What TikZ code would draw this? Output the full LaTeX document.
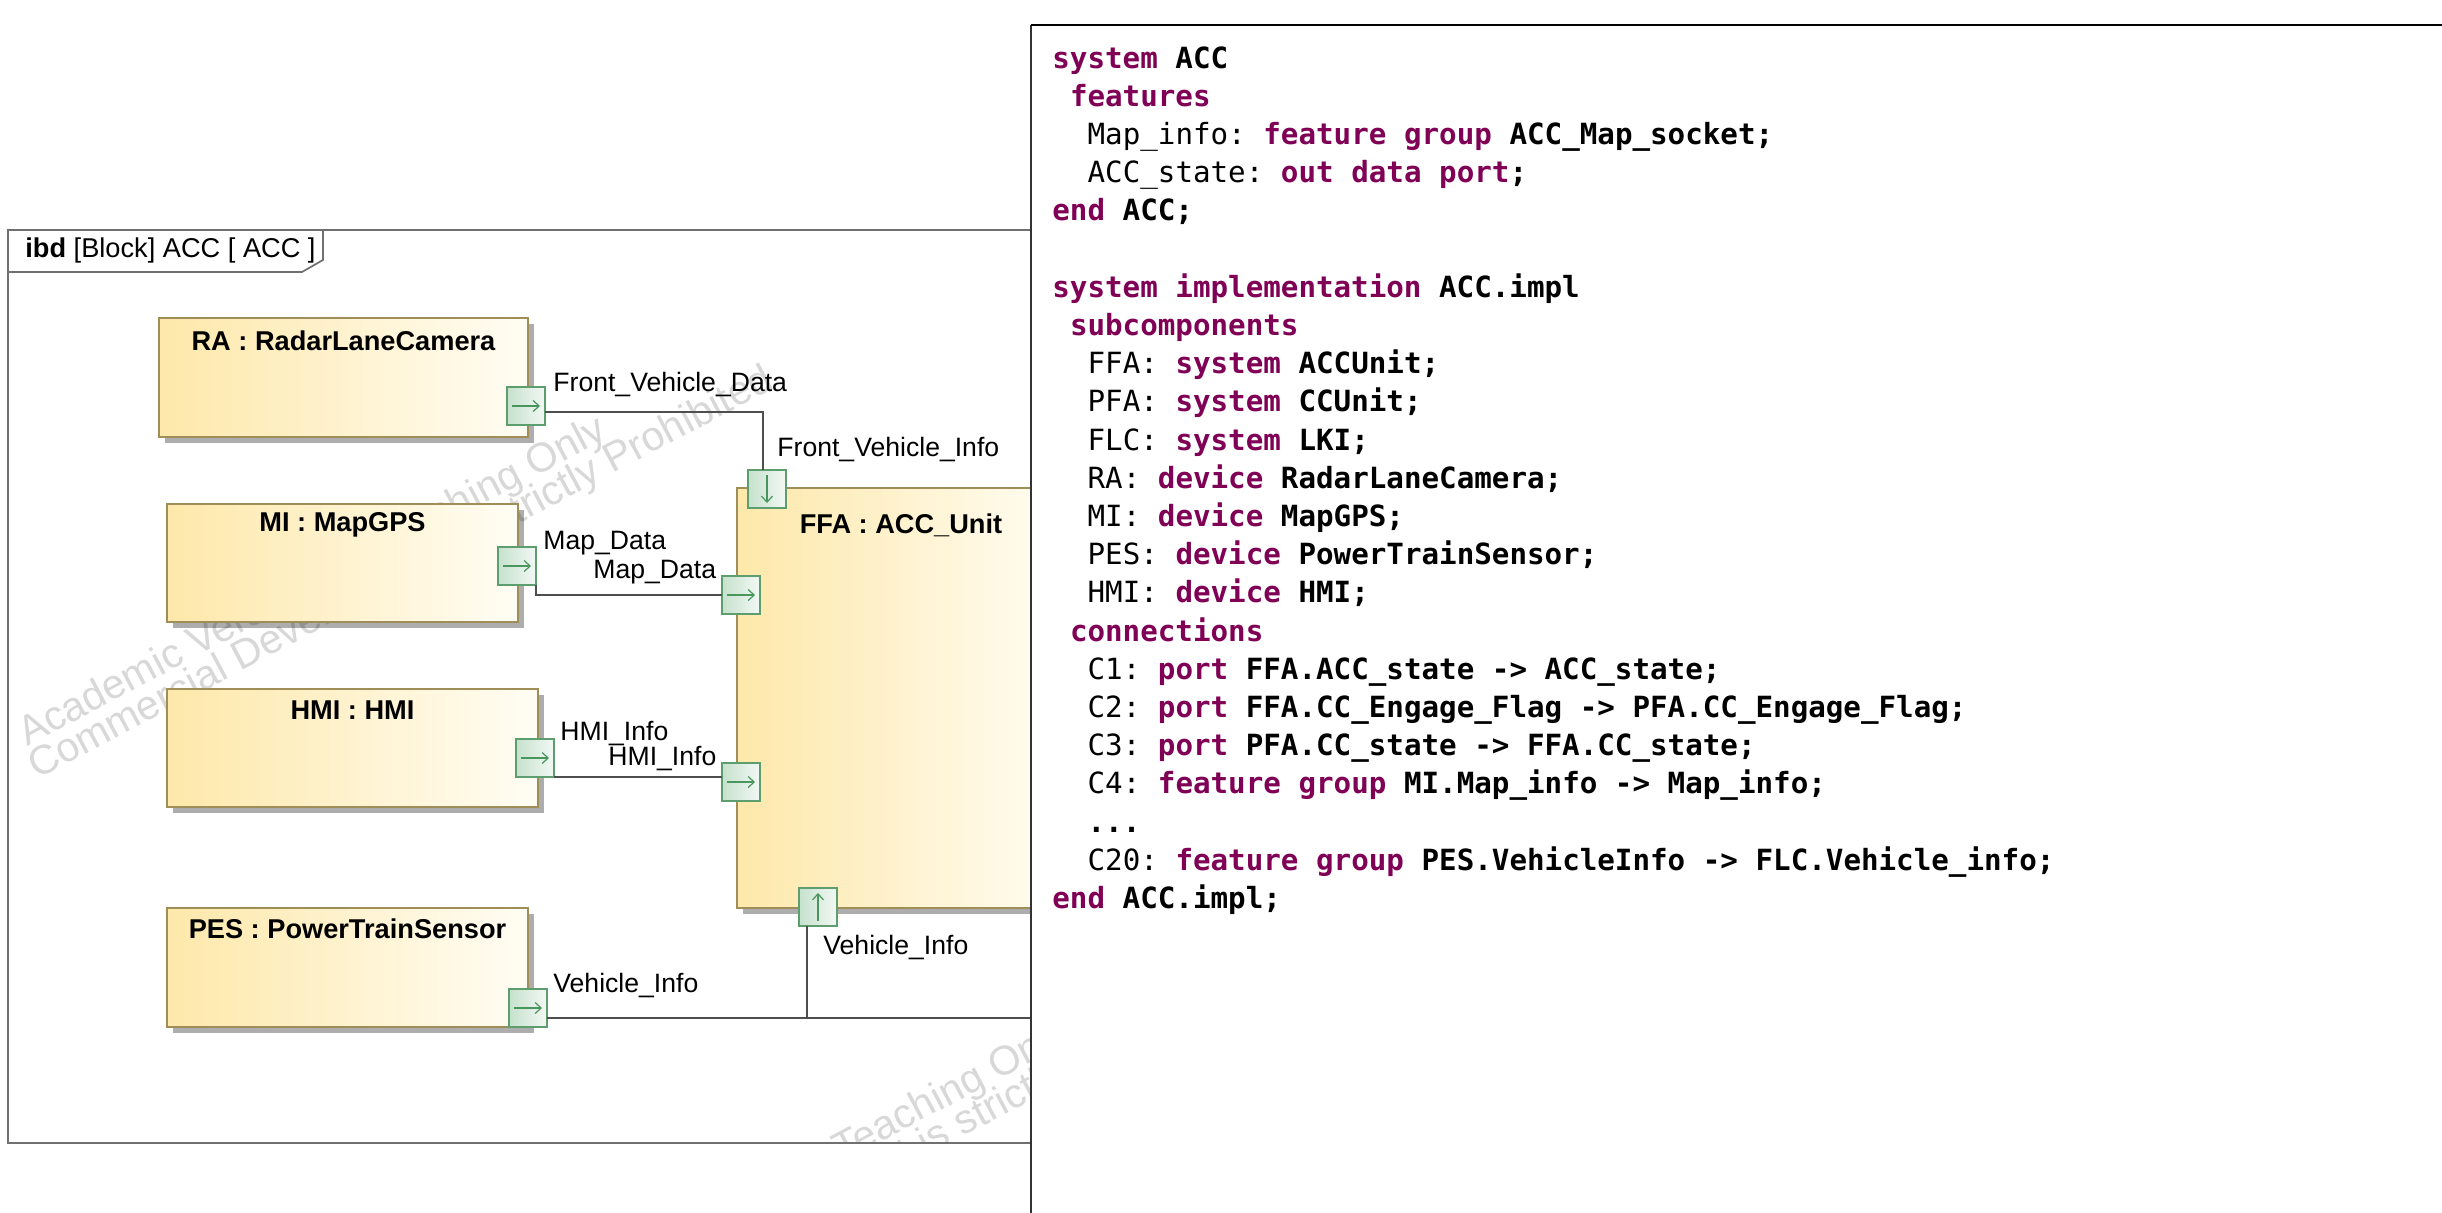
\documentclass[tikz,border=0pt]{standalone}
\usepackage{fontspec}
\setmainfont{Liberation Sans}
\newfontfamily\codefont{DejaVu Sans Mono}
\usetikzlibrary{arrows.meta,calc,shadows}

\definecolor{boxborder}{RGB}{160,142,88}
\definecolor{boxleft}{RGB}{254,232,170}
\definecolor{boxright}{RGB}{255,253,244}
\definecolor{portborder}{RGB}{92,158,110}
\definecolor{portleft}{RGB}{198,225,205}
\definecolor{portright}{RGB}{242,248,244}
\definecolor{portarrow}{RGB}{72,150,92}
\definecolor{conncol}{RGB}{78,78,78}
\definecolor{framecol}{RGB}{112,112,112}
\definecolor{kwcol}{RGB}{127,0,85}
\definecolor{wmcol}{RGB}{216,216,216}

\newcommand{\kw}[1]{\textcolor{kwcol}{\bfseries #1}}
\newcommand{\idb}[1]{{\bfseries #1}}
\newcommand{\blockat}[5]{\node[block,minimum width={(#4-#2)*0.5pt},minimum height={(#5-#3)*0.5pt}] (#1) at (#2,#3) {};}
\newcommand{\codeln}[4]{\node[codetext] (#1) at ({1052+#2*17.6},{68+(#3-1)*38.2}) {#4};}

\begin{document}
\begin{tikzpicture}[x=0.5pt,y=-0.5pt,
  block/.style={draw=boxborder,line width=0.9pt,left color=boxleft,right color=boxright,anchor=north west,inner sep=0pt,outer sep=0pt,drop shadow={shadow xshift=3pt,shadow yshift=-3pt,fill=black,opacity=0.32}},
  blocktitle/.style={font=\bfseries\fontsize{13.6}{16}\selectfont,inner sep=0pt},
  lbl/.style={font=\fontsize{13.3}{16}\selectfont,anchor=west,inner sep=0pt},
  port/.style={draw=portborder,line width=0.55pt,left color=portleft,right color=portright,minimum size=19pt,inner sep=0pt,outer sep=0pt},
  parrow/.style={draw=portarrow,line width=0.6pt,-{Straight Barb[length=3pt,width=5.5pt]}},
  conn/.style={draw=conncol,line width=0.7pt},
  codetext/.style={font=\codefont\fontsize{14.6}{17}\selectfont\frenchspacing,anchor=base west,inner sep=0pt},
  wm/.style={text=wmcol,font=\fontsize{20.5}{24}\selectfont,anchor=base west,rotate=28,inner sep=0pt}
]
\useasboundingbox (0,0) rectangle (2442,1212);
\fill[white] (0,0) rectangle (2442,1212);

% watermark
\begin{scope}
\clip (8,230) rectangle (1031,1143);
\node[wm] (wm1a) at (27,747) {Academic Version for Teaching Only};
\node[wm] (wm1b) at (37,780) {Commercial Development is strictly Prohibited};
\node[wm] (wm2a) at (490,1350) {Academic Version for Teaching Only};
\node[wm] (wm2b) at (500,1383) {Commercial Development is strictly Prohibited};
\end{scope}

% frame
\draw[framecol,line width=0.85pt] (8,230) rectangle (1100,1143);
\draw[framecol,line width=0.85pt] (8,272) -- (302,272) -- (323,260) -- (323,230);
\node[anchor=base west,inner sep=0pt,font=\fontsize{13.6}{16}\selectfont] (tab) at (25,257) {\textbf{ibd} [Block] ACC [ ACC ]};

% blocks
\blockat{ra}{159}{318}{528}{437}
\blockat{mi}{167}{504}{518}{622}
\blockat{hmi}{167}{689}{538}{807}
\blockat{pes}{167}{908}{528}{1027}
\blockat{ffa}{737}{488}{1065}{908}

\node[blocktitle] (ra-t) at ($(ra.north)+(0,23)$) {RA : RadarLaneCamera};
\node[blocktitle] (mi-t) at ($(mi.north)+(0,21)$) {MI : MapGPS};
\node[blocktitle] (hmi-t) at ($(hmi.north)+(0,21)$) {HMI : HMI};
\node[blocktitle] (pes-t) at ($(pes.north)+(0,21)$) {PES : PowerTrainSensor};
\node[blocktitle] (ffa-t) at (901,525) {FFA : ACC\_Unit};

% ports
\node[port] (p1) at (526,406) {};
\node[port] (p2) at (517,566) {};
\node[port] (p3) at (535,758) {};
\node[port] (p4) at (528,1008) {};
\node[port] (p5) at (767,489) {};
\node[port] (p6) at (741,595) {};
\node[port] (p7) at (741,782) {};
\node[port] (p8) at (818,907) {};
\foreach \p in {p1,p2,p3,p4,p6,p7}
  \draw[parrow] ($(\p.center)+(-14,0)$) -- ($(\p.center)+(14,0)$);
\draw[parrow] ($(p5.center)+(0,-14)$) -- ($(p5.center)+(0,14)$);
\draw[parrow] ($(p8.center)+(0,14)$) -- ($(p8.center)+(0,-14)$);

% connectors
\draw[conn] ($(p1.east)+(0,6)$) -| ($(p5.north)+(-4,0)$);
\draw[conn] (p2.south east) |- (p6.west);
\draw[conn] (p3.south east) -- (p3.south east -| p7.west);
\coordinate (pesend) at (1100,1018);
\draw[conn] ($(p4.east)+(0,10)$) -- (pesend);
\coordinate (vtop) at ($(p8.south)+(-11,0)$);
\draw[conn] (vtop) -- (vtop |- pesend);

% labels
\node[lbl] (l1) at (553,384) {Front\_Vehicle\_Data};
\node[lbl] (l2) at (777,449) {Front\_Vehicle\_Info};
\node[lbl] (l3) at (543,543) {Map\_Data};
\node[lbl] (l4) at (593,572) {Map\_Data};
\node[lbl] (l5) at (560,734) {HMI\_Info};
\node[lbl] (l6) at (608,759) {HMI\_Info};
\node[lbl] (l7) at (823,947) {Vehicle\_Info};
\node[lbl] (l8) at (553,985) {Vehicle\_Info};

% code panel
\fill[white] (1031,25) rectangle (2450,1220);
\draw[black!80,line width=0.85pt] (1031,1220) -- (1031,25);
\draw[black,line width=1.1pt] (1031,25) -- (2450,25);

\codeln{c1}{0}{1}{\kw{system} \idb{ACC}}
\codeln{c2}{1}{2}{\kw{features}}
\codeln{c3}{2}{3}{Map\_info: \kw{feature group} \idb{ACC\_Map\_socket;}}
\codeln{c4}{2}{4}{ACC\_state: \kw{out data port}\idb{;}}
\codeln{c5}{0}{5}{\kw{end} \idb{ACC;}}
\codeln{c7}{0}{7}{\kw{system implementation} \idb{ACC.impl}}
\codeln{c8}{1}{8}{\kw{subcomponents}}
\codeln{c9}{2}{9}{FFA: \kw{system} \idb{ACCUnit;}}
\codeln{c10}{2}{10}{PFA: \kw{system} \idb{CCUnit;}}
\codeln{c11}{2}{11}{FLC: \kw{system} \idb{LKI;}}
\codeln{c12}{2}{12}{RA: \kw{device} \idb{RadarLaneCamera;}}
\codeln{c13}{2}{13}{MI: \kw{device} \idb{MapGPS;}}
\codeln{c14}{2}{14}{PES: \kw{device} \idb{PowerTrainSensor;}}
\codeln{c15}{2}{15}{HMI: \kw{device} \idb{HMI;}}
\codeln{c16}{1}{16}{\kw{connections}}
\codeln{c17}{2}{17}{C1: \kw{port} \idb{FFA.ACC\_state -> ACC\_state;}}
\codeln{c18}{2}{18}{C2: \kw{port} \idb{FFA.CC\_Engage\_Flag -> PFA.CC\_Engage\_Flag;}}
\codeln{c19}{2}{19}{C3: \kw{port} \idb{PFA.CC\_state -> FFA.CC\_state;}}
\codeln{c20}{2}{20}{C4: \kw{feature group} \idb{MI.Map\_info -> Map\_info;}}
\codeln{c21}{2}{21}{\idb{...}}
\codeln{c22}{2}{22}{C20: \kw{feature group} \idb{PES.VehicleInfo -> FLC.Vehicle\_info;}}
\codeln{c23}{0}{23}{\kw{end} \idb{ACC.impl;}}
\end{tikzpicture}
\end{document}
